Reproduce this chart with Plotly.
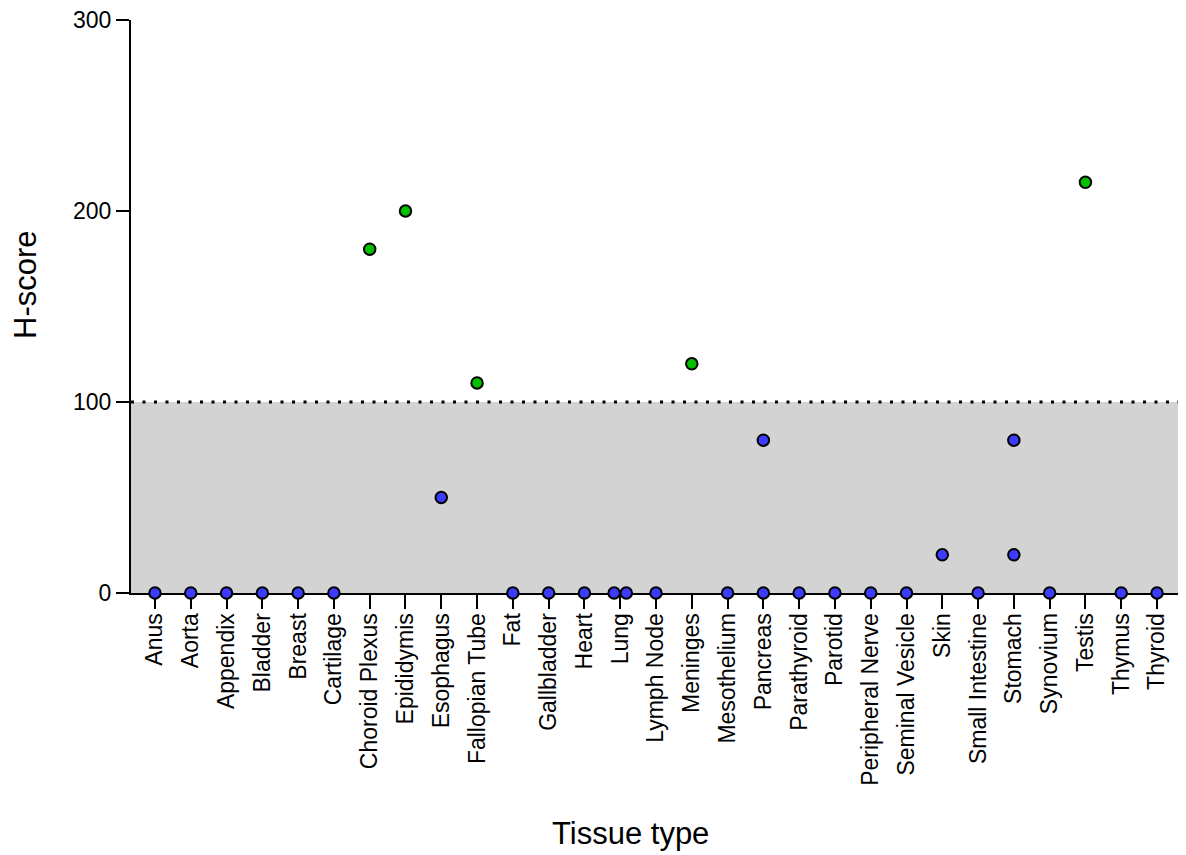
import plotly.graph_objects as go

tissues = ["Anus", "Aorta", "Appendix", "Bladder", "Breast", "Cartilage", "Choroid Plexus",
           "Epididymis", "Esophagus", "Fallopian Tube", "Fat", "Gallbladder", "Heart", "Lung",
           "Lymph Node", "Meninges", "Mesothelium", "Pancreas", "Parathyroid", "Parotid",
           "Peripheral Nerve", "Seminal Vesicle", "Skin", "Small Intestine", "Stomach",
           "Synovium", "Testis", "Thymus", "Thyroid"]

# points below threshold (blue)
low_tissue = ["Anus", "Aorta", "Appendix", "Bladder", "Breast", "Cartilage", "Esophagus", "Fat",
              "Gallbladder", "Heart", "Lung", "Lung", "Lymph Node", "Mesothelium", "Pancreas",
              "Pancreas", "Parathyroid", "Parotid", "Peripheral Nerve", "Seminal Vesicle", "Skin",
              "Small Intestine", "Stomach", "Stomach", "Synovium", "Thymus", "Thyroid"]
low_score = [0, 0, 0, 0, 0, 0, 50, 0, 0, 0, 0, 0, 0, 0, 80, 0, 0, 0, 0, 0, 20, 0, 80, 20, 0, 0, 0]
low_jitter = [0, 0, 0, 0, 0, 0, 0, 0, 0, 0, -0.17, 0.17, 0, 0, 0, 0, 0, 0, 0, 0, 0, 0, 0, 0, 0, 0, 0]

# points above threshold (green)
high_tissue = ["Choroid Plexus", "Epididymis", "Fallopian Tube", "Meninges", "Testis"]
high_score = [180, 200, 110, 120, 215]

threshold = 100
y_ticks = [0, 100, 200, 300]

idx = {t: i for i, t in enumerate(tissues)}
low_x = [idx[t] + j for t, j in zip(low_tissue, low_jitter)]
high_x = [idx[t] for t in high_tissue]

FONT = "Liberation Sans, Arial, sans-serif"

# page body adds an 8px margin; figure sized so it fills the 1186x855 window
W, H = 1178, 847
L, T = 123, 12
PW = W - L            # plot width
PB = 585              # plot bottom in figure pixels
PH = PB - T           # plot height

fig = go.Figure()
marker_line = dict(color="black", width=2)
fig.add_trace(go.Scatter(x=low_x, y=low_score, mode="markers", cliponaxis=False,
                         marker=dict(size=11.5, color="#3c3cff", line=marker_line),
                         showlegend=False, hoverinfo="skip"))
fig.add_trace(go.Scatter(x=high_x, y=high_score, mode="markers", cliponaxis=False,
                         marker=dict(size=11.5, color="#00c000", line=marker_line),
                         showlegend=False, hoverinfo="skip"))

fig.add_shape(type="rect", xref="paper", yref="y", x0=0, x1=1, y0=0, y1=threshold,
              fillcolor="#d3d3d3", line=dict(width=0), layer="below")
fig.add_shape(type="line", xref="paper", yref="y", x0=0, x1=1, y0=threshold, y1=threshold,
              line=dict(color="black", width=3, dash="3px,8.5px"), layer="above")

fig.update_layout(
    width=W, height=H,
    margin=dict(l=L, r=0, t=T, b=H - PB),
    plot_bgcolor="white", paper_bgcolor="white",
    font=dict(family=FONT, color="black", size=23),
    xaxis=dict(range=[-0.67, 28.81], tickvals=list(range(len(tissues))), ticktext=tissues,
               tickangle=-90, ticks="outside", ticklen=14, tickwidth=2, tickcolor="black",
               ticklabelstandoff=-5, ticklabeloverflow="allow",
               showline=True, linecolor="black", linewidth=2, showgrid=False, zeroline=False,
               layer="below traces", tickfont=dict(size=23)),
    yaxis=dict(range=[0, 300], tickvals=y_ticks, ticks="outside", ticklen=13, tickwidth=2,
               ticklabeloverflow="allow",
               tickcolor="black", showline=True, linecolor="black", linewidth=2,
               showgrid=False, zeroline=False, layer="below traces", tickfont=dict(size=23)),
    annotations=[
        dict(text="Tissue type", xref="paper", yref="paper", x=(622 - L) / PW, y=-(825 - PB) / PH,
             xanchor="center", yanchor="middle", showarrow=False, font=dict(size=31)),
        dict(text="H-score", xref="paper", yref="paper", x=-(L - 17) / PW, y=(PB - 277) / PH,
             xanchor="center", yanchor="middle", showarrow=False, textangle=-90, font=dict(size=31)),
    ],
)

fig.write_html("out.html")
